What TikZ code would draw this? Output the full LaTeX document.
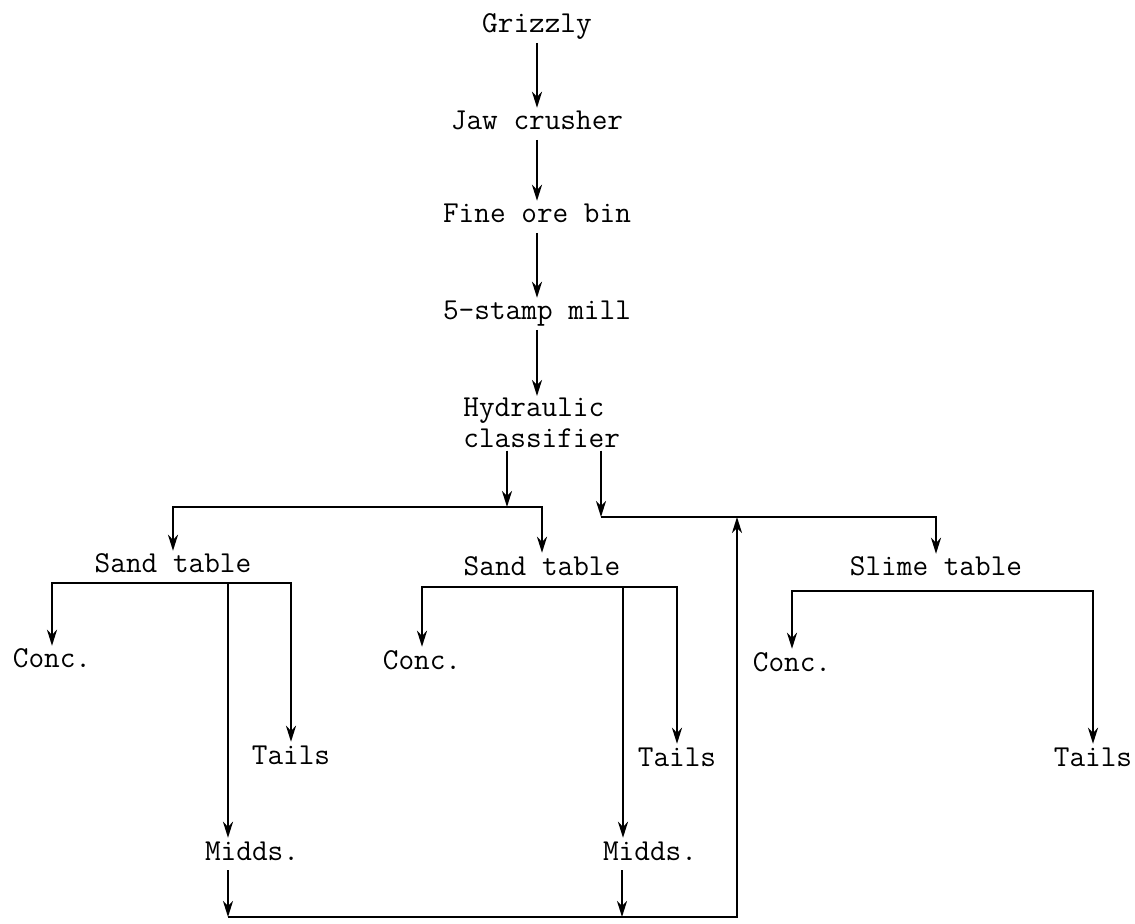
\documentclass[tikz,border=0pt]{standalone}
\usepackage{tikz}
\usetikzlibrary{arrows.meta}

\begin{document}
\begin{tikzpicture}[x=0.5pt,y=-0.5pt,
  lbl/.style={font=\fontsize{15.2}{15.5}\selectfont\ttfamily, inner sep=1pt, text height=9.9pt, text depth=3.8pt, anchor=base},
  flow/.style={line width=1.1pt, -{Stealth[length=8pt,width=5pt,inset=2.5pt]}}]
\useasboundingbox (0,0) rectangle (1135,924);
\node[lbl] (grizzly) at (537,33) {Grizzly};
\node[lbl] (jaw) at (537,130) {Jaw crusher};
\node[lbl] (bin) at (537,223) {Fine ore bin};
\node[lbl] (stamp) at (537,320) {5-stamp mill};
\node[font=\fontsize{15.2}{15.5}\selectfont\ttfamily, inner sep=1pt, align=left, anchor=north west] (classifier) at (461,396) {Hydraulic\\classifier};
\node[lbl] (sand1) at (173,573) {Sand table};
\node[lbl] (sand2) at (542,575) {Sand table};
\node[lbl] (slime) at (936,576) {Slime table};
\node[lbl] (conc1) at (52,668) {Conc.};
\node[lbl] (conc2) at (422,669) {Conc.};
\node[lbl] (conc3) at (792,671) {Conc.};
\node[lbl] (tails1) at (291,764) {Tails};
\node[lbl] (tails2) at (677,766) {Tails};
\node[lbl] (tails3) at (1093,766) {Tails};
\node[lbl] (midds1) at (252,860) {Midds.};
\node[lbl] (midds2) at (650,860) {Midds.};
\coordinate (jL) at (507,507);
\coordinate (jR) at (601,517);
\coordinate (ret) at (737,517);
\coordinate (s1) at (228,583);
\coordinate (s2) at (623,587);
\coordinate (s3) at (936,591);
\coordinate (b1) at (228,917);
\coordinate (b2) at (622,917);
\draw[flow] (grizzly) -- (jaw);
\draw[flow] (jaw) -- (bin);
\draw[flow] (bin) -- (stamp);
\draw[flow] (stamp.south) -- (stamp.south |- classifier.north);
\draw[flow] (classifier.south -| jL) -- (jL);
\draw[flow] (jL) -| (sand1);
\draw[flow] (jL) -| (sand2);
\draw[flow] (classifier.south -| jR) -- (jR);
\draw[flow] (jR) -| (slime);
\draw[flow] (s1) -| (conc1);
\draw[flow] (s1) -| (tails1);
\draw[flow] (s1) -- (midds1.north -| s1);
\draw[flow] (s2) -| (conc2);
\draw[flow] (s2) -| (tails2);
\draw[flow] (s2) -- (midds2.north -| s2);
\draw[flow] (s3) -| (conc3);
\draw[flow] (s3) -| (tails3);
\draw[flow] (midds1.south -| b1) -- (b1);
\draw[flow] (midds2.south -| b2) -- (b2);
\draw[flow] (b1) -| (ret);
\end{tikzpicture}
\end{document}
